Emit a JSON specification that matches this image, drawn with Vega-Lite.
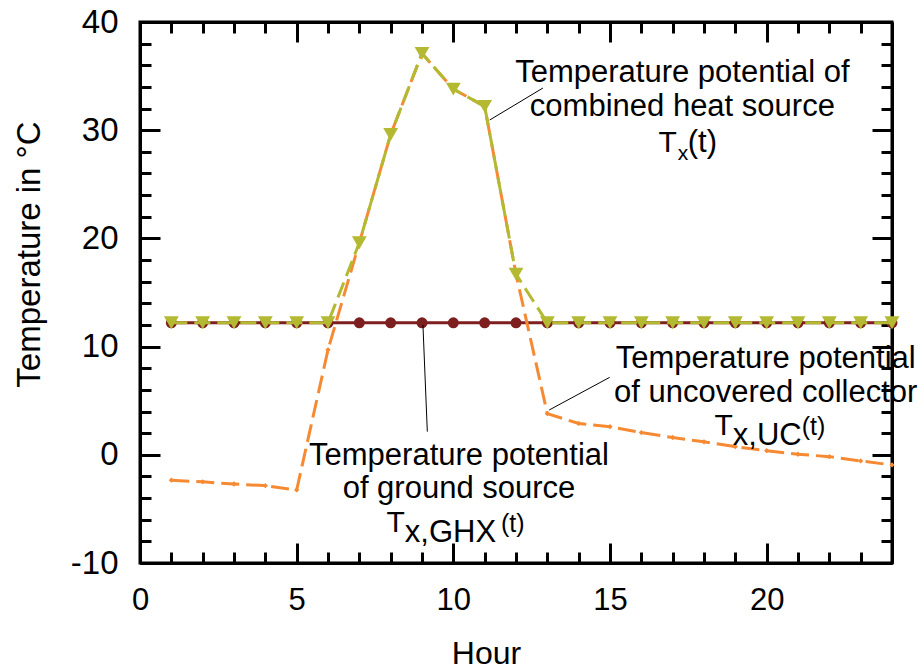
{
  "$schema": "https://vega.github.io/schema/vega-lite/v6.json",
  "width": 752,
  "height": 541,
  "autosize": "none",
  "padding": {"left": 140, "top": 22, "right": 31, "bottom": 106},
  "background": "white",
  "config": {
    "view": {"stroke": "black", "strokeWidth": 3},
    "font": "Liberation Sans"
  },
  "datasets": {
    "series": [
      {"hour": 1, "ground": 12.2, "uc": -2.35, "combined": 12.2},
      {"hour": 2, "ground": 12.2, "uc": -2.5, "combined": 12.2},
      {"hour": 3, "ground": 12.2, "uc": -2.7, "combined": 12.2},
      {"hour": 4, "ground": 12.2, "uc": -2.85, "combined": 12.2},
      {"hour": 5, "ground": 12.2, "uc": -3.25, "combined": 12.2},
      {"hour": 6, "ground": 12.2, "uc": 9.7, "combined": 12.2},
      {"hour": 7, "ground": 12.2, "uc": 19.6, "combined": 19.6},
      {"hour": 8, "ground": 12.2, "uc": 29.6, "combined": 29.6},
      {"hour": 9, "ground": 12.2, "uc": 37.1, "combined": 37.1},
      {"hour": 10, "ground": 12.2, "uc": 33.8, "combined": 33.8},
      {"hour": 11, "ground": 12.2, "uc": 32.2, "combined": 32.2},
      {"hour": 12, "ground": 12.2, "uc": 16.7, "combined": 16.7},
      {"hour": 13, "ground": 12.2, "uc": 3.8, "combined": 12.2},
      {"hour": 14, "ground": 12.2, "uc": 2.9, "combined": 12.2},
      {"hour": 15, "ground": 12.2, "uc": 2.6, "combined": 12.2},
      {"hour": 16, "ground": 12.2, "uc": 2.05, "combined": 12.2},
      {"hour": 17, "ground": 12.2, "uc": 1.6, "combined": 12.2},
      {"hour": 18, "ground": 12.2, "uc": 1.2, "combined": 12.2},
      {"hour": 19, "ground": 12.2, "uc": 0.75, "combined": 12.2},
      {"hour": 20, "ground": 12.2, "uc": 0.38, "combined": 12.2},
      {"hour": 21, "ground": 12.2, "uc": 0.05, "combined": 12.2},
      {"hour": 22, "ground": 12.2, "uc": -0.17, "combined": 12.2},
      {"hour": 23, "ground": 12.2, "uc": -0.57, "combined": 12.2},
      {"hour": 24, "ground": 12.2, "uc": -0.94, "combined": 12.2}
    ],
    "leaders": [
      {"hour": 11.16, "temp": 30.94, "hour2": 12.86, "temp2": 33.9},
      {"hour": 9.03, "temp": 12.0, "hour2": 9.17, "temp2": 2.14},
      {"hour": 13.06, "temp": 4.14, "hour2": 14.99, "temp2": 7.16}
    ],
    "notes": [
      {"group": "main", "text": "Temperature potential of", "hour": 17.31, "temp": 34.45},
      {"group": "main", "text": "combined heat source", "hour": 17.31, "temp": 31.31},
      {"group": "T", "text": "T", "hour": 17.13, "temp": 27.99},
      {"group": "subsmall", "text": "x", "hour": 17.16, "temp": 27.25},
      {"group": "tbig", "text": "(t)", "hour": 17.48, "temp": 27.99},
      {"group": "main", "text": "Temperature potential", "hour": 10.18, "temp": -0.94},
      {"group": "main", "text": "of ground source", "hour": 10.18, "temp": -3.99},
      {"group": "T", "text": "T", "hour": 8.45, "temp": -7.13},
      {"group": "sub", "text": "x,GHX", "hour": 8.45, "temp": -8.06},
      {"group": "tsmall", "text": "(t)", "hour": 11.52, "temp": -7.13},
      {"group": "main", "text": "Temperature potential", "hour": 19.97, "temp": 8.02},
      {"group": "main", "text": "of uncovered collector", "hour": 19.97, "temp": 4.88},
      {"group": "T", "text": "T", "hour": 18.92, "temp": 1.83},
      {"group": "sub", "text": "x,UC", "hour": 18.92, "temp": 0.91},
      {"group": "tsmall", "text": "(t)", "hour": 21.12, "temp": 1.83}
    ]
  },
  "resolve": {"axis": {"x": "independent", "y": "independent"}},
  "layer": [
    {
      "data": {"name": "series"},
      "mark": {"type": "line", "color": "#7D1F1F", "strokeWidth": 3},
      "encoding": {
        "x": {"field": "hour", "type": "quantitative", "scale": {"domain": [0, 24], "nice": false, "zero": false},
              "axis": {"orient": "bottom", "values": [0,1,2,3,4,5,6,7,8,9,10,11,12,13,14,15,16,17,18,19,20,21,22,23,24],
                       "ticks": true, "tickColor": "black", "tickWidth": 3,
                       "tickSize": {"condition": {"test": "datum.value % 5 === 0", "value": -20}, "value": -11},
                       "grid": false, "domainColor": "black", "domainWidth": 3,
                       "labelPadding": 42, "labelFlush": false, "labelOverlap": false, "labelFont": "Liberation Sans", "labelFontSize": 31, "labelColor": "black",
                       "labelExpr": "datum.value % 5 === 0 && datum.value < 24 ? '' + datum.value : ''",
                       "title": "Hour", "titleFont": "Liberation Sans", "titleFontSize": 32, "titleFontWeight": "normal", "titleColor": "black", "titleX": 346, "titlePadding": 14}},
        "y": {"field": "ground", "type": "quantitative", "scale": {"domain": [-10, 40], "nice": false, "zero": false},
              "axis": {"orient": "left", "values": [-10,-8,-6,-4,-2,0,2,4,6,8,10,12,14,16,18,20,22,24,26,28,30,32,34,36,38,40],
                       "ticks": true, "tickColor": "black", "tickWidth": 3,
                       "tickSize": {"condition": {"test": "datum.value % 10 === 0", "value": -20}, "value": -11},
                       "grid": false, "domainColor": "black", "domainWidth": 3,
                       "labelPadding": 42, "labelFlush": false, "labelOverlap": false, "labelFont": "Liberation Sans", "labelFontSize": 33, "labelColor": "black",
                       "labelExpr": "datum.value % 10 === 0 ? '' + datum.value : ''",
                       "title": "Temperature in °C", "titleFont": "Liberation Sans", "titleFontSize": 33, "titleFontWeight": "normal", "titleColor": "black", "titleY": 232, "titlePadding": 24}}
      }
    },
    {
      "data": {"name": "series"},
      "mark": {"type": "circle", "color": "#7D1F1F", "size": 120, "opacity": 1},
      "encoding": {
        "x": {"field": "hour", "type": "quantitative", "axis": null},
        "y": {"field": "ground", "type": "quantitative", "axis": null}
      }
    },
    {
      "data": {"name": "series"},
      "mark": {"type": "line", "color": "#F68A33", "strokeWidth": 3, "strokeDash": [18, 7]},
      "encoding": {
        "x": {"field": "hour", "type": "quantitative",
              "axis": {"orient": "top", "values": [0,1,2,3,4,5,6,7,8,9,10,11,12,13,14,15,16,17,18,19,20,21,22,23,24],
                       "ticks": true, "tickColor": "black", "tickWidth": 3,
                       "tickSize": {"condition": {"test": "datum.value % 5 === 0", "value": -20}, "value": -11},
                       "grid": false, "domainColor": "black", "domainWidth": 3, "labels": false, "title": null}},
        "y": {"field": "uc", "type": "quantitative",
              "axis": {"orient": "right", "values": [-10,-8,-6,-4,-2,0,2,4,6,8,10,12,14,16,18,20,22,24,26,28,30,32,34,36,38,40],
                       "ticks": true, "tickColor": "black", "tickWidth": 3,
                       "tickSize": {"condition": {"test": "datum.value % 10 === 0", "value": -20}, "value": -11},
                       "grid": false, "domainColor": "black", "domainWidth": 3, "labels": false, "title": null}}
      }
    },
    {
      "data": {"name": "series"},
      "mark": {"type": "point", "shape": "diamond", "filled": true, "color": "#F68A33", "size": 28, "opacity": 1},
      "encoding": {
        "x": {"field": "hour", "type": "quantitative", "axis": null},
        "y": {"field": "uc", "type": "quantitative", "axis": null}
      }
    },
    {
      "data": {"name": "series"},
      "mark": {"type": "line", "color": "#B3B930", "strokeWidth": 3, "strokeDash": [16, 7]},
      "encoding": {
        "x": {"field": "hour", "type": "quantitative", "axis": null},
        "y": {"field": "combined", "type": "quantitative", "axis": null}
      }
    },
    {
      "data": {"name": "series"},
      "mark": {"type": "point", "shape": "triangle-down", "filled": true, "color": "#B3B930", "size": 220, "opacity": 1},
      "encoding": {
        "x": {"field": "hour", "type": "quantitative", "axis": null},
        "y": {"field": "combined", "type": "quantitative", "axis": null}
      }
    },
    {
      "data": {"name": "leaders"},
      "mark": {"type": "rule", "color": "black", "strokeWidth": 1},
      "encoding": {
        "x": {"field": "hour", "type": "quantitative", "axis": null},
        "y": {"field": "temp", "type": "quantitative", "axis": null},
        "x2": {"field": "hour2"},
        "y2": {"field": "temp2"}
      }
    },
    {
      "data": {"name": "notes"},
      "transform": [{"filter": "datum.group === 'main'"}],
      "mark": {"type": "text", "align": "center", "baseline": "alphabetic", "fontSize": 31, "font": "Liberation Sans", "color": "black"},
      "encoding": {
        "x": {"field": "hour", "type": "quantitative", "axis": null},
        "y": {"field": "temp", "type": "quantitative", "axis": null},
        "text": {"field": "text"}
      }
    },
    {
      "data": {"name": "notes"},
      "transform": [{"filter": "datum.group === 'T'"}],
      "mark": {"type": "text", "align": "right", "baseline": "alphabetic", "fontSize": 30, "font": "Liberation Sans", "color": "black"},
      "encoding": {
        "x": {"field": "hour", "type": "quantitative", "axis": null},
        "y": {"field": "temp", "type": "quantitative", "axis": null},
        "text": {"field": "text"}
      }
    },
    {
      "data": {"name": "notes"},
      "transform": [{"filter": "datum.group === 'subsmall'"}],
      "mark": {"type": "text", "align": "left", "baseline": "alphabetic", "fontSize": 21, "font": "Liberation Sans", "color": "black"},
      "encoding": {
        "x": {"field": "hour", "type": "quantitative", "axis": null},
        "y": {"field": "temp", "type": "quantitative", "axis": null},
        "text": {"field": "text"}
      }
    },
    {
      "data": {"name": "notes"},
      "transform": [{"filter": "datum.group === 'sub'"}],
      "mark": {"type": "text", "align": "left", "baseline": "alphabetic", "fontSize": 31, "font": "Liberation Sans", "color": "black"},
      "encoding": {
        "x": {"field": "hour", "type": "quantitative", "axis": null},
        "y": {"field": "temp", "type": "quantitative", "axis": null},
        "text": {"field": "text"}
      }
    },
    {
      "data": {"name": "notes"},
      "transform": [{"filter": "datum.group === 'tbig'"}],
      "mark": {"type": "text", "align": "left", "baseline": "alphabetic", "fontSize": 31, "font": "Liberation Sans", "color": "black"},
      "encoding": {
        "x": {"field": "hour", "type": "quantitative", "axis": null},
        "y": {"field": "temp", "type": "quantitative", "axis": null},
        "text": {"field": "text"}
      }
    },
    {
      "data": {"name": "notes"},
      "transform": [{"filter": "datum.group === 'tsmall'"}],
      "mark": {"type": "text", "align": "left", "baseline": "alphabetic", "fontSize": 25, "font": "Liberation Sans", "color": "black"},
      "encoding": {
        "x": {"field": "hour", "type": "quantitative", "axis": null},
        "y": {"field": "temp", "type": "quantitative", "axis": null},
        "text": {"field": "text"}
      }
    }
  ]
}
